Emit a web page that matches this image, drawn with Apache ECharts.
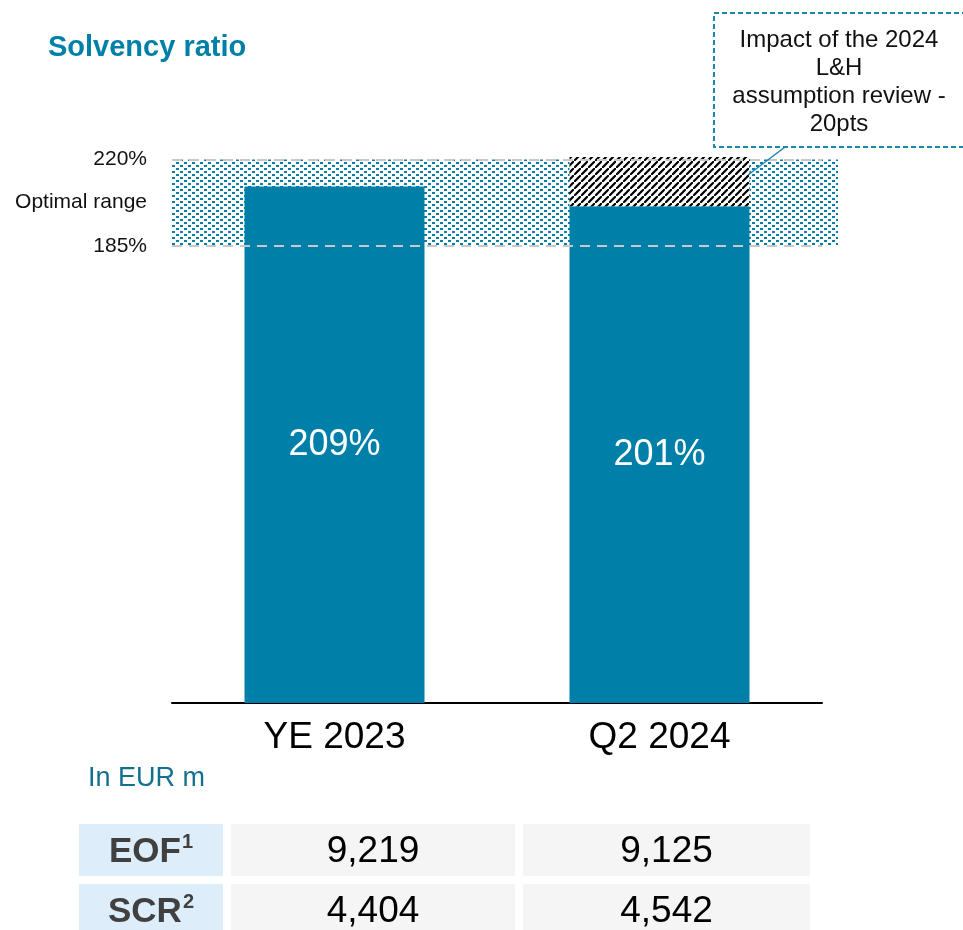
<!DOCTYPE html>
<html>
<head>
<meta charset="utf-8">
<script src="https://cdn.jsdelivr.net/npm/echarts@6/dist/echarts.min.js"></script>
<style>
  html, body { margin: 0; padding: 0; background: #fff; }
  #main { width: 963px; height: 930px; }
</style>
</head>
<body>
<div id="main"></div>
<script>
var categories = ['YE 2023', 'Q2 2024'];
var solvency = [209, 201];
var reviewImpact = [null, 20];
var optimalRange = [185, 220];
var tableRows = ['EOF', 'SCR'];
var footnotes = ['1', '2'];
var eofValues = [9219, 9125];
var scrValues = [4404, 4542];

var teal = '#0080a8';
var font = 'Liberation Sans, Arial, sans-serif';

// dotted fill for the optimal range band (staggered dots)
function dotPattern() {
    var c = document.createElement('canvas');
    c.width = 8; c.height = 6;
    var ctx = c.getContext('2d');
    ctx.fillStyle = '#ffffff';
    ctx.fillRect(0, 0, 8, 6);
    ctx.fillStyle = '#0a7da6';
    ctx.fillRect(0, 0, 3, 2);
    ctx.fillRect(4, 3, 3, 2);
    return c;
}

// diagonal hatch for the assumption review impact
function hatchPattern() {
    var s = 7;
    var c = document.createElement('canvas');
    c.width = s; c.height = s;
    var ctx = c.getContext('2d');
    ctx.fillStyle = '#ffffff';
    ctx.fillRect(0, 0, s, s);
    ctx.strokeStyle = '#000000';
    ctx.lineWidth = 2.2;
    ctx.beginPath();
    ctx.moveTo(-1, s + 1); ctx.lineTo(s + 1, -1);
    ctx.moveTo(-s - 1, 1); ctx.lineTo(1, -s - 1);
    ctx.moveTo(s - 1, 2 * s + 1); ctx.lineTo(2 * s + 1, s - 1);
    ctx.stroke();
    return c;
}

var myChart = echarts.init(document.getElementById('main'));

// table below the chart
var tableGraphics = [];
var rowValues = [eofValues, scrValues];
var rowTop = [824, 884];
var colLeft = [231, 523];
var colWidth = [284, 287];
tableRows.forEach(function (name, r) {
    tableGraphics.push({
        type: 'rect', left: 79, top: rowTop[r],
        shape: { width: 144, height: 52 },
        style: { fill: '#ddeefa' }
    });
    tableGraphics.push({
        type: 'text', x: 151, y: rowTop[r] + 28,
        style: {
            text: '{b|' + name + '}{s|' + footnotes[r] + '}',
            align: 'center', verticalAlign: 'middle',
            rich: {
                b: { fontFamily: font, fontSize: 35, fontWeight: 'bold', fill: '#404040', lineHeight: 40 },
                s: { fontFamily: font, fontSize: 20, fontWeight: 'bold', fill: '#404040', verticalAlign: 'top', lineHeight: 40, padding: [0, 0, 12, 1] }
            }
        }
    });
    rowValues[r].forEach(function (v, c) {
        tableGraphics.push({
            type: 'rect', left: colLeft[c], top: rowTop[r],
            shape: { width: colWidth[c], height: 52 },
            style: { fill: '#f5f5f5' }
        });
        tableGraphics.push({
            type: 'text', x: colLeft[c] + colWidth[c] / 2, y: rowTop[r] + 28,
            style: {
                text: v.toLocaleString('en-US'),
                fontFamily: font, fontSize: 37, fill: '#000',
                align: 'center', verticalAlign: 'middle'
            }
        });
    });
});

let option = {
    backgroundColor: '#ffffff',
    animation: false,
    title: {
        text: 'Solvency ratio',
        left: 48, top: 33, padding: 0,
        textStyle: { fontFamily: font, fontSize: 29, fontWeight: 'bold', color: teal }
    },
    grid: [
        { left: 172, right: 141, top: 110, bottom: 227 },
        { left: 172, right: 125, top: 110, bottom: 227 }
    ],
    xAxis: [
        {
            type: 'category', data: categories, gridIndex: 0,
            axisLine: { lineStyle: { color: '#000', width: 2 } },
            axisTick: { show: false },
            axisLabel: { fontFamily: font, fontSize: 37, color: '#000', margin: 16 }
        },
        { type: 'category', data: categories, gridIndex: 1, show: false }
    ],
    yAxis: [
        { type: 'value', min: 0, max: 240, gridIndex: 0, show: false, splitLine: { show: false } },
        { type: 'value', min: 0, max: 240, gridIndex: 1, show: false, splitLine: { show: false } }
    ],
    series: [
        {
            name: 'Optimal range', type: 'line', xAxisIndex: 1, yAxisIndex: 1,
            data: [null, null], z: 1, silent: true,
            markArea: {
                silent: true,
                itemStyle: { color: { image: dotPattern(), repeat: 'repeat' } },
                label: {
                    show: true, position: 'left', distance: 25,
                    fontFamily: font, fontSize: 21, color: '#111'
                },
                data: [[{ name: 'Optimal range', yAxis: optimalRange[0] }, { yAxis: optimalRange[1] }]]
            }
        },
        {
            name: 'Solvency ratio', type: 'bar', stack: 'total', barWidth: 180, z: 2,
            data: solvency,
            itemStyle: { color: teal },
            label: {
                show: true, position: 'inside', formatter: '{c}%',
                fontFamily: font, fontSize: 36, color: '#fff'
            }
        },
        {
            name: 'Impact of the 2024 L&H assumption review', type: 'bar', stack: 'total', barWidth: 180, z: 2,
            data: reviewImpact,
            itemStyle: { color: { image: hatchPattern(), repeat: 'repeat' } }
        },
        {
            name: 'Range limits', type: 'line', data: [null, null], z: 5, silent: true,
            markLine: {
                silent: true, symbol: 'none',
                lineStyle: { color: '#c8c8c8', width: 2, type: [10, 7] },
                label: {
                    show: true, position: 'start', distance: 25,
                    fontFamily: font, fontSize: 21, color: '#111',
                    formatter: function (p) { return p.value + '%'; }
                },
                data: optimalRange.map(function (v) { return { yAxis: v }; })
            }
        }
    ],
    graphic: [
        {
            type: 'text', left: 88, top: 765,
            style: { text: 'In EUR m', fontFamily: font, fontSize: 27, fill: '#12718f' }
        },
        {
            type: 'line', z: 10,
            shape: { x1: 785, y1: 147, x2: 748, y2: 175 },
            style: { stroke: '#1a85ad', lineWidth: 1.5 }
        },
        {
            type: 'rect', z: 10,
            shape: { x: 714, y: 13, width: 262, height: 134 },
            style: { fill: '#fff', stroke: '#1a85ad', lineWidth: 2, lineDash: [5, 3] }
        },
        {
            type: 'text', z: 11, x: 839, y: 82,
            style: {
                text: 'Impact of the 2024\nL&H\nassumption review -\n20pts',
                fontFamily: font, fontSize: 24, lineHeight: 28, fill: '#111',
                align: 'center', verticalAlign: 'middle'
            }
        }
    ].concat(tableGraphics)
};

myChart.setOption(option);
</script>
</body>
</html>
